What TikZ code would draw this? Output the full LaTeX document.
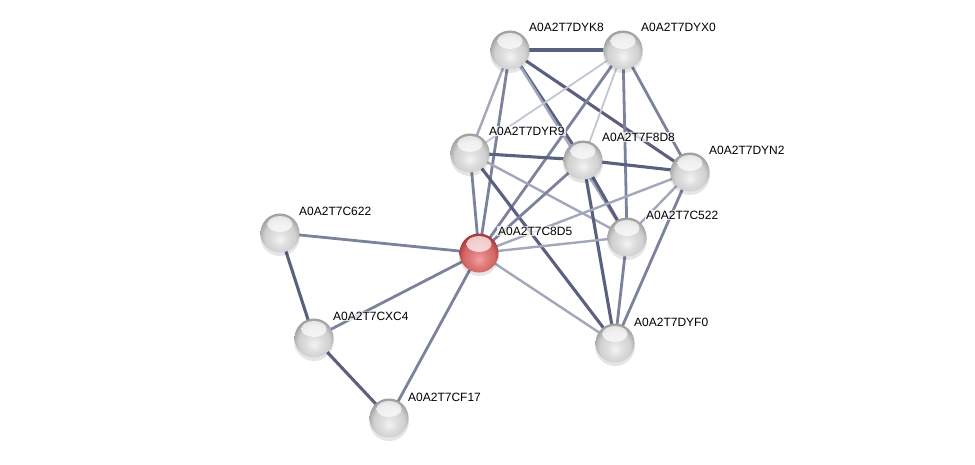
\documentclass[tikz,border=0pt]{standalone}
\usepackage{fontspec}
\setmainfont{Liberation Sans}
\usetikzlibrary{backgrounds}
\definecolor{eStrong}{HTML}{5A6180}
\definecolor{eMed}{HTML}{7B829C}
\definecolor{eLight}{HTML}{A2A7BB}
\definecolor{eFaint}{HTML}{C2C6D3}
\definecolor{gLt}{HTML}{F4F4F4}
\definecolor{gMd}{HTML}{D0D0D0}
\definecolor{gDk}{HTML}{AAAAAA}
\definecolor{gRim}{HTML}{8A8A8A}
\definecolor{rLt}{HTML}{F5A0A0}
\definecolor{rMd}{HTML}{D46666}
\definecolor{rDk}{HTML}{B04444}
\definecolor{rRim}{HTML}{8A2626}
\pgfdeclareradialshading{graysphere}{\pgfpoint{0bp}{-9bp}}{color(0bp)=(gLt); color(10bp)=(gMd!60!gLt); color(20bp)=(gMd); color(26bp)=(gDk); color(33bp)=(gRim); color(50bp)=(gRim)}
\pgfdeclareradialshading{redsphere}{\pgfpoint{0bp}{-9bp}}{color(0bp)=(rLt); color(10bp)=(rMd!60!rLt); color(20bp)=(rMd); color(26bp)=(rDk); color(33bp)=(rRim); color(50bp)=(rRim)}
\tikzset{
  gloss/.style={path picture={\shade[top color=white, bottom color=white, opacity=0.7]
     ([yshift=9pt]path picture bounding box.center) ellipse [x radius=12.5pt, y radius=8pt];}},
  prot/.style={circle, minimum size=39pt, inner sep=0pt, shading=graysphere, gloss},
  qprot/.style={circle, minimum size=39pt, inner sep=0pt, shading=redsphere, gloss},
  lbl/.style={anchor=west, inner sep=1pt, fill=white, fill opacity=0.75, text opacity=1, font=\fontsize{12}{14}\selectfont},
  es/.style={draw=eStrong, line width=3.1pt},
  em/.style={draw=eMed, line width=2.8pt},
  el/.style={draw=eLight, line width=2.4pt},
  ef/.style={draw=eFaint, line width=1.8pt},
  shad/.style={fill=black, fill opacity=0.10, draw=none}
}
\begin{document}
\begin{tikzpicture}[x=1pt,y=-1pt]
\useasboundingbox (0,0) rectangle (975,464);
% shadows
\foreach \x/\y in {510/50,623/50,470/153,583/160,690/172,627/237,479/253,280/233,314/338,389/418,615/343}
  \fill[shad] (\x,\y+3) circle (20pt);
% nodes
\node[prot]  (DYK8) at (510,50)  {};
\node[prot]  (DYX0) at (623,50)  {};
\node[prot]  (DYR9) at (470,153) {};
\node[prot]  (F8D8) at (583,160) {};
\node[prot]  (DYN2) at (690,172) {};
\node[prot]  (C522) at (627,237) {};
\node[qprot] (C8D5) at (479,253) {};
\node[prot]  (C622) at (280,233) {};
\node[prot]  (CXC4) at (314,338) {};
\node[prot]  (CF17) at (389,418) {};
\node[prot]  (DYF0) at (615,343) {};
% labels
\node[lbl] (tDYK8) at (528,27)  {A0A2T7DYK8};
\node[lbl] (tDYX0) at (640,27)  {A0A2T7DYX0};
\node[lbl] (tDYR9) at (488,131) {A0A2T7DYR9};
\node[lbl] (tF8D8) at (601,137) {A0A2T7F8D8};
\node[lbl] (tDYN2) at (708,150) {A0A2T7DYN2};
\node[lbl] (tC522) at (645,215) {A0A2T7C522};
\node[lbl] (tC8D5) at (497,231) {A0A2T7C8D5};
\node[lbl] (tC622) at (298,211) {A0A2T7C622};
\node[lbl] (tCXC4) at (332,316) {A0A2T7CXC4};
\node[lbl] (tCF17) at (407,397) {A0A2T7CF17};
\node[lbl] (tDYF0) at (633,322) {A0A2T7DYF0};
% edges
\begin{scope}[on background layer]
\draw[em] (C622.center) -- (C8D5.center);
\draw[es] (C622.center) -- (CXC4.center);
\draw[em] (CXC4.center) -- (C8D5.center);
\draw[es] (CXC4.center) -- (CF17.center);
\draw[em] (CF17.center) -- (C8D5.center);
\draw[es] (DYK8.center) -- (DYX0.center);
\draw[es] (DYK8.center) -- (DYN2.center);
\draw[es] (DYK8.center) -- (F8D8.center);
\draw[el] (DYK8.center) -- (C522.center);
\draw[el] (DYK8.center) -- (DYR9.center);
\draw[em] (DYK8.center) -- (C8D5.center);
\draw[ef] (DYX0.center) -- (DYR9.center);
\draw[em] (DYX0.center) -- (C8D5.center);
\draw[ef] (DYX0.center) -- (F8D8.center);
\draw[em] (DYX0.center) -- (C522.center);
\draw[em] (DYX0.center) -- (DYN2.center);
\draw[es] (DYR9.center) -- (F8D8.center);
\draw[el] (DYR9.center) -- (C522.center);
\draw[es] (DYR9.center) -- (DYF0.center);
\draw[em] (DYR9.center) -- (C8D5.center);
\draw[es] (F8D8.center) -- (DYN2.center);
\draw[em] (F8D8.center) -- (C8D5.center);
\draw[es] (F8D8.center) -- (C522.center);
\draw[es] (F8D8.center) -- (DYF0.center);
\draw[el] (DYN2.center) -- (C8D5.center);
\draw[el] (DYN2.center) -- (C522.center);
\draw[em] (DYN2.center) -- (DYF0.center);
\draw[em] (C522.center) -- (DYF0.center);
\draw[el] (C522.center) -- (C8D5.center);
\draw[el] (C8D5.center) -- (DYF0.center);
\end{scope}
\end{tikzpicture}
\end{document}
